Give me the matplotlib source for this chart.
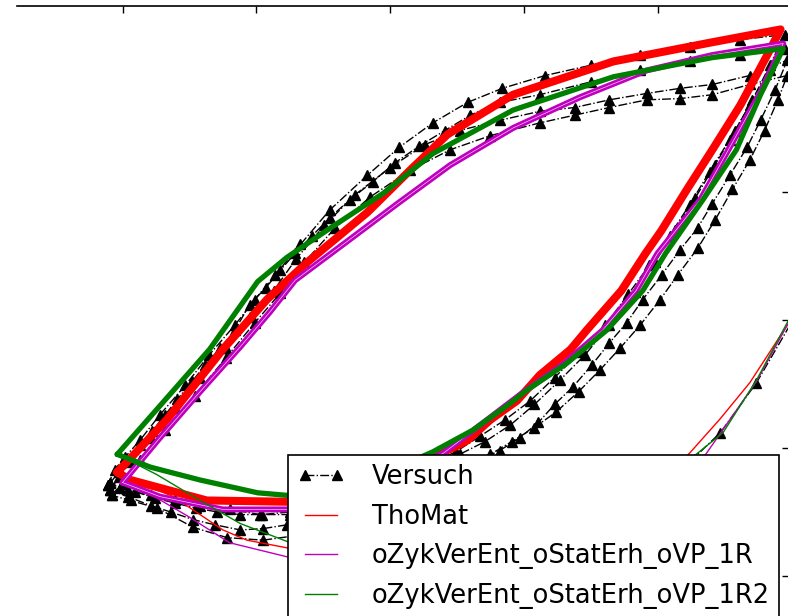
import matplotlib
matplotlib.use("Agg")
import matplotlib.pyplot as plt
from matplotlib.lines import Line2D

# ---------------- data (strain in permille, stress in MPa) ----------------
labels = ["Versuch", "ThoMat", "oZykVerEnt_oStatErh_oVP_1R", "oZykVerEnt_oStatErh_oVP_1R2"]

# Versuch (experiment): several cycles + start of a further cycle
versuch_a_x = [-2.11, -2.06, -1.98, -1.87, -1.72, -1.53, -1.35, -1.16, -1.01, -0.86, -0.67, -0.45, -0.17,
               0.07, 0.32, 0.58, 0.84, 1.16, 1.50, 1.87, 2.24, 2.62, 2.95,
               2.84, 2.71, 2.58, 2.43, 2.28, 2.13, 1.98, 1.83, 1.64, 1.46, 1.27, 1.08, 0.90, 0.71, 0.52,
               0.22, -0.15, -0.45, -0.75, -0.97, -1.20, -1.42, -1.61, -1.79, -1.96, -2.11]
versuch_a_y = [-129, -117, -107, -94, -74, -51, -27, -4, 16, 35, 59, 86, 113,
               135, 154, 170, 181, 191, 199, 207, 213, 219, 223,
               199, 172, 148, 121, 95, 70, 45, 22, -4, -27, -47, -66, -82, -95, -105,
               -121, -137, -147, -152, -152, -148, -145, -141, -137, -133, -129]

versuch_b_x = [-2.09, -2.03, -1.94, -1.79, -1.61, -1.42, -1.23, -1.05, -0.87, -0.70, -0.49, -0.26, 0.00,
               0.26, 0.52, 0.82, 1.12, 1.38, 1.64, 1.92, 2.17, 2.41, 2.69, 2.97,
               2.88, 2.77, 2.67, 2.54, 2.41, 2.30, 2.17, 2.03, 1.89, 1.77, 1.64, 1.51, 1.37, 1.23, 1.11,
               0.97, 0.82, 0.60, 0.22, -0.15, -0.52, -0.77, -0.95, -1.12, -1.31, -1.47, -1.64, -1.79,
               -1.96, -2.09]
versuch_b_y = [-133, -123, -111, -92, -69, -45, -22, 2, 23, 48, 74, 98, 119,
               137, 148, 156, 163, 166, 172, 177, 181, 184, 191, 203,
               180, 156, 135, 113, 91, 72, 55, 35, 16, -2, -18, -35, -52, -66, -80,
               -92, -102, -113, -129, -145, -156, -160, -163, -164, -160, -156, -150, -145,
               -138, -133]

versuch_c_x = [-2.08, -2.00, -1.87, -1.68, -1.46, -1.23, -1.01, -0.82, -0.64, -0.41, -0.15, 0.15, 0.45,
               0.75, 1.12, 1.38, 1.64, 1.92, 2.17, 2.41, 2.69, 2.97,
               2.90, 2.80, 2.69, 2.56, 2.43, 2.30, 2.15, 2.02, 1.87, 1.72, 1.57, 1.41, 1.24, 1.08, 0.91,
               0.75, 0.37, 0.00, -0.37, -0.67, -0.95, -1.22, -1.47, -1.74, -1.94, -2.08]
versuch_c_y = [-137, -127, -109, -86, -59, -30, -2, 21, 45, 72, 96, 117, 133,
               144, 154, 160, 166, 172, 173, 176, 184, 191,
               172, 148, 125, 102, 78, 56, 35, 16, -4, -22, -39, -56, -72, -84, -95,
               -105, -125, -145, -160, -168, -172, -170, -162, -147, -141, -137]

versuch_e_x = [-2.09, -2.03, -1.96, -1.87, -1.78, -1.68, -1.59, -1.48, -1.38, -1.27, -1.16, -1.05, -0.93,
               -0.82, -0.71, -0.58, -0.45, -0.30, -0.13, 0.04, 0.22, 0.41, 0.60, 0.82, 1.12, 1.50,
               1.87, 2.24, 2.62, 2.95,
               2.84, 2.69, 2.54, 2.39, 2.24, 2.09, 1.94, 1.78, 1.61, 1.42, 1.23, 1.05, 0.86, 0.67,
               0.49, 0.15, -0.22, -0.52, -0.75, -0.96, -1.12, -1.29, -1.45, -1.61, -1.76, -1.91,
               -2.02, -2.09]
versuch_e_y = [-127, -119, -109, -98, -87, -74, -62, -48, -35, -22, -8, 12, 25,
               39, 52, 66, 80, 94, 108, 123, 136, 148, 160, 170, 176, 186,
               195, 202, 207, 212,
               195, 168, 141, 116, 90, 66, 43, 20, -4, -25, -45, -63, -78, -91,
               -103, -120, -134, -145, -150, -152, -152, -150, -147, -143, -139, -134,
               -131, -127]

versuch_d_x = [-0.52, 0.45, 1.42, 1.94, 2.24, 2.47, 2.74, 3.14]
versuch_d_y = [-195, -211, -188, -141, -111, -88, -49, 23]

# ThoMat (red)
thomat_x = [-2.04, -1.67, -1.25, -0.92, -0.62, -0.17, 0.15, 0.43, 0.92, 1.67, 2.41, 2.92,
            2.80, 2.62, 2.41, 2.22, 2.03, 1.91, 1.73, 1.47, 1.35, 1.12, 0.95, 0.75, 0.58, 0.47,
            0.07, -0.30, -0.77, -1.37, -1.94, -2.04]
thomat_y = [-119, -78, -23, 16, 45, 84, 117, 145, 176, 202, 217, 227,
            203, 168, 133, 102, 70, 52, 23, -8, -23, -43, -63, -78, -94, -100,
            -117, -133, -142, -141, -125, -119]
thomat_first_x = [-1.97, -1.62, -1.25, -1.07, -0.77, -0.07, 0.67, 1.42, 1.87, 2.24, 2.47, 2.69, 2.97, 3.14]
thomat_first_y = [-123, -138, -164, -172, -178, -203, -211, -184, -141, -104, -77, -49, -4, 26]

# oZykVerEnt_oStatErh_oVP_1R (magenta)
r1_x = [-2.00, -1.72, -1.42, -1.12, -0.90, -0.71, -0.30, 0.07, 0.45, 0.92, 1.42, 1.92, 2.41, 2.94,
        2.77, 2.53, 2.32, 2.00, 1.84, 1.59, 1.29, 0.99, 0.60, 0.40, 0.07, -0.37, -0.77, -1.25,
        -1.72, -2.00]
r1_y = [-127, -92, -56, -21, 6, 31, 63, 92, 121, 150, 174, 195, 207, 216,
        178, 133, 94, 52, 23, -8, -35, -57, -88, -104, -121, -141, -148, -148,
        -138, -127]
r1_first_x = [-1.94, -1.50, -1.20, -0.77, -0.07, 0.67, 1.42, 1.94, 2.36, 2.54, 2.74, 2.97, 3.14]
r1_first_y = [-127, -154, -174, -185, -207, -215, -188, -137, -105, -78, -48, -4, 26]

# oZykVerEnt_oStatErh_oVP_1R2 (green)
r2_x = [-2.04, -1.72, -1.35, -0.99, -0.77, -0.43, -0.05, 0.32, 0.92, 1.67, 2.41, 2.94,
        2.77, 2.59, 2.34, 2.06, 1.89, 1.62, 1.32, 1.02, 0.90, 0.62, 0.32, -0.07, -0.45, -0.77,
        -0.99, -1.42, -1.79, -2.04]
r2_y = [-105, -67, -23, 30, 49, 73, 99, 130, 164, 190, 205, 212,
        176, 133, 94, 52, 23, -8, -34, -55, -65, -86, -103, -121, -133, -137,
        -135, -125, -115, -105]
r2_first_x = [-2.04, -1.74, -1.42, -1.12, -0.77, -0.07, 0.67, 1.42, 1.94, 2.30, 2.49, 2.74, 2.97, 3.14]
r2_first_y = [-105, -121, -141, -159, -173, -199, -207, -180, -133, -104, -88, -47, -2, 27]

x_ticks = [-2, -1, 0, 1, 2]
y_ticks = [-200, -100, 0, 100]

# ---------------- figure ----------------
W, H = 788, 616
fig = plt.figure(figsize=(W / 100, H / 100), dpi=100)
ax = fig.add_axes([17 / W, -88 / H, 772 / W, 698 / H])
ax.set_xlim(-2.789, 2.983)
ax.set_ylim(-300, 245.3)

red, mag, grn = "#ff0000", "#bf00bf", "#008000"
kw = dict(solid_joinstyle="round", solid_capstyle="round")

# experiment underneath the model curves
for vx, vy in [(versuch_a_x, versuch_a_y), (versuch_e_x, versuch_e_y), (versuch_b_x, versuch_b_y),
               (versuch_c_x, versuch_c_y), (versuch_d_x, versuch_d_y)]:
    ax.plot(vx, vy, color="black", ls="-.", lw=1.0, marker="^", ms=7, zorder=1)

ax.plot(thomat_x, thomat_y, color=red, lw=5.8, zorder=2, **kw)
ax.plot(thomat_first_x, thomat_first_y, color=red, lw=1.0, zorder=2)

ax.plot(r1_x, r1_y, color=mag, lw=4.3, zorder=4, **kw)
ax.plot(r1_x, r1_y, color="white", lw=0.45, alpha=0.85, zorder=4.1, **kw)
ax.plot(r1_first_x, r1_first_y, color=mag, lw=1.0, zorder=4)
ax.plot(r2_x, r2_y, color=grn, lw=3.8, zorder=5, **kw)
ax.plot(r2_first_x, r2_first_y, color=grn, lw=1.0, zorder=5)

# axes styling
ax.set_xticks(x_ticks)
ax.set_yticks(y_ticks)
ax.xaxis.set_ticks_position("top")
ax.yaxis.set_ticks_position("right")
ax.tick_params(direction="in", length=5, width=1.0, labeltop=False, labelright=False,
               labelbottom=False, labelleft=False)
for s in ["left", "bottom"]:
    ax.spines[s].set_visible(False)
ax.spines["top"].set_linewidth(1.2)
ax.spines["right"].set_linewidth(1.2)

handles = [
    Line2D([], [], color="black", ls="-.", lw=1.0, marker="^", ms=7),
    Line2D([], [], color=red, lw=1.0),
    Line2D([], [], color=mag, lw=1.0),
    Line2D([], [], color=grn, lw=1.0),
]
leg = ax.legend(handles, labels, loc="upper left",
                bbox_to_anchor=((288 - 17) / 772, (704 - 455) / 698),
                borderaxespad=0, fontsize=18.5, numpoints=2, handlelength=1.85,
                handletextpad=1.07, labelspacing=0.53, borderpad=0.35,
                fancybox=False, framealpha=1, edgecolor="black")
leg.get_frame().set_linewidth(1.2)
leg.set_zorder(10)

fig.savefig("out.png", dpi=100)
